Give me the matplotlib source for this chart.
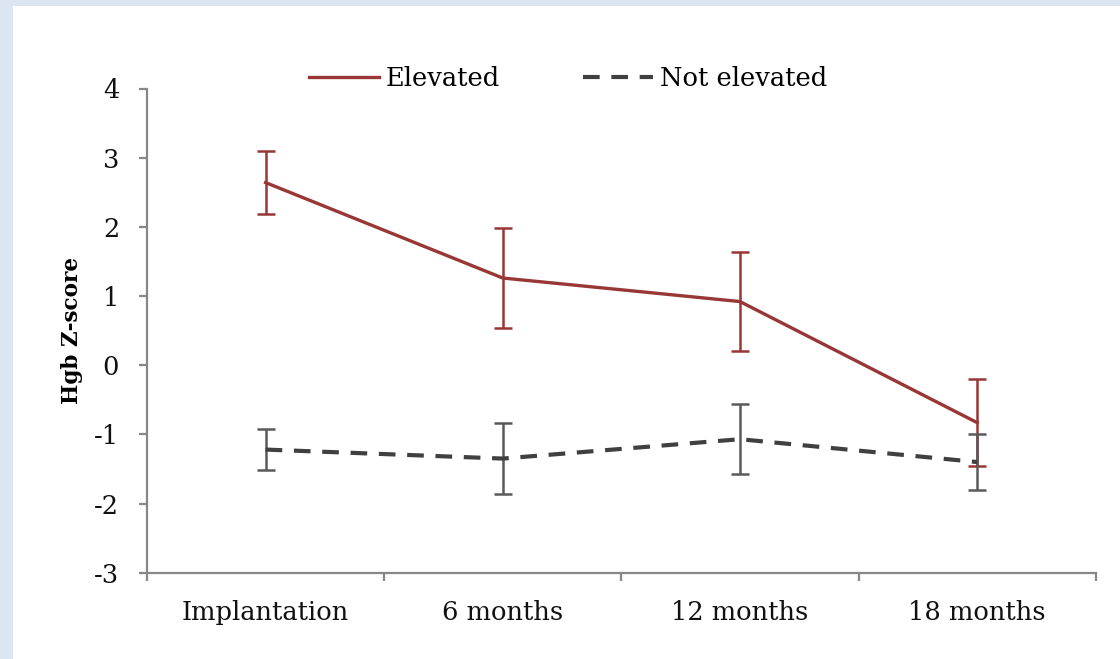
import matplotlib
matplotlib.use("Agg")
import matplotlib.pyplot as plt
from matplotlib.patches import Rectangle
from matplotlib.lines import Line2D
import numpy as np

# Hemoglobin Z-score over time, grouped by elevated vs not elevated
timepoints = ["Implantation", "6 months", "12 months", "18 months"]
elevated_mean = [2.64, 1.26, 0.92, -0.83]
elevated_err = [0.46, 0.72, 0.715, 0.63]
not_elevated_mean = [-1.22, -1.35, -1.07, -1.40]
not_elevated_err = [0.30, 0.51, 0.51, 0.40]
y_ticks = [4, 3, 2, 1, 0, -1, -2, -3]

RED = "#983735"
DARK = "#404040"
BAR_GRAY = "#5a5a5a"
AXIS_GRAY = "#878787"
DASH = (0, (4, 2.8))
FS = 18.5

plt.rcParams["font.family"] = ["DejaVu Serif"]

W, H = 1120, 659
fig = plt.figure(figsize=(W / 100, H / 100), dpi=100)
fig.patch.set_facecolor("#dce6f2")
# white slide panel behind the chart
fig.patches.append(Rectangle((13 / W, 0), 1 - 13 / W, 1 - 6 / H,
                             transform=fig.transFigure, facecolor="white",
                             edgecolor="none", zorder=-5))

left, right = 147 / W, 1095.7 / W
top_px, bottom_px = 88.5, 572.7
ax = fig.add_axes([left, 1 - bottom_px / H, right - left, (bottom_px - top_px) / H])
ax.set_zorder(2)
ax.set_facecolor("none")

x = np.arange(len(timepoints)) + 0.5

ax.errorbar(x, elevated_mean, yerr=elevated_err, color=RED, lw=2.4,
            ecolor=RED, elinewidth=1.8, capsize=6.8, capthick=1.8, zorder=3)
ax.errorbar(x, not_elevated_mean, yerr=not_elevated_err, color=DARK, lw=3.0,
            ls=DASH, ecolor=BAR_GRAY, elinewidth=1.8, capsize=6.8,
            capthick=1.8, zorder=4)

ax.set_xlim(0, len(timepoints))
ax.set_ylim(-3, 4)
ax.set_yticks(y_ticks)
ax.set_yticklabels([str(t) for t in y_ticks])
ax.set_xticks(np.arange(len(timepoints) + 1))
ax.set_xticklabels([])
ax.set_xticks(x, minor=True)
ax.set_xticklabels(timepoints, minor=True)

for side in ("top", "right"):
    ax.spines[side].set_visible(False)
for side in ("left", "bottom"):
    ax.spines[side].set_color(AXIS_GRAY)
    ax.spines[side].set_linewidth(1.6)

ax.tick_params(axis="both", which="major", direction="out", length=6,
               width=1.6, color=AXIS_GRAY, labelsize=FS, labelcolor="#111111")
ax.tick_params(axis="y", pad=14)
ax.tick_params(axis="x", which="minor", length=0, pad=20, labelsize=FS,
               labelcolor="#111111")

ax.set_ylabel("Hgb Z-score", fontsize=15.5, fontweight="bold", labelpad=8)

handles = [Line2D([], [], color=RED, lw=2.4),
           Line2D([], [], color=DARK, lw=3.0, ls=DASH)]
fig.legend(handles, ["Elevated", "Not elevated"], loc="center",
           bbox_to_anchor=(568 / W, 1 - 78 / H), ncol=2, frameon=False,
           fontsize=FS, handlelength=2.75, handletextpad=0.27, columnspacing=3.2)

fig.savefig("out.png", dpi=100, facecolor=fig.get_facecolor())
